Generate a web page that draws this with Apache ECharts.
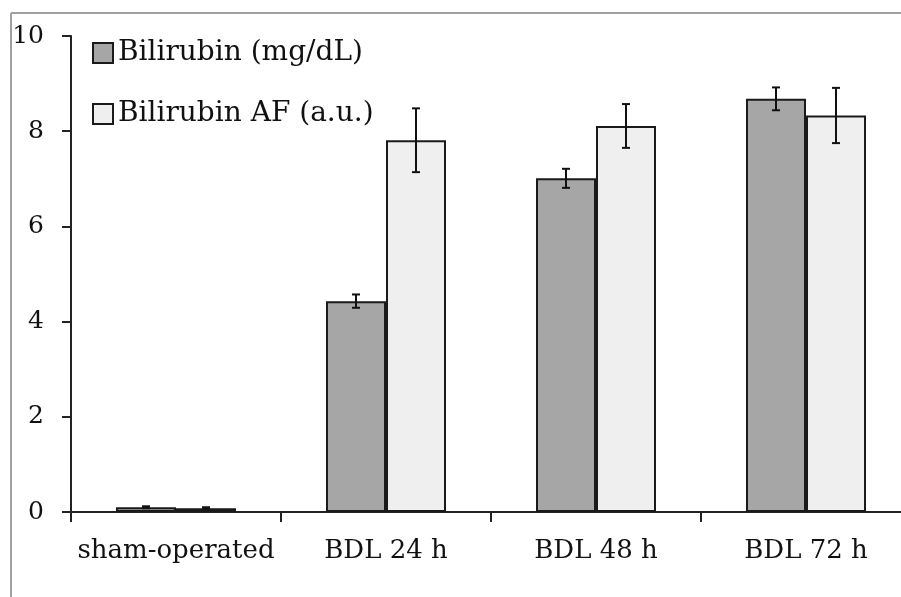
<!DOCTYPE html>
<html>
<head>
<meta charset="utf-8">
<script src="https://cdn.jsdelivr.net/npm/echarts@6/dist/echarts.min.js"></script>
<style>
html,body{margin:0;padding:0;background:#fff;overflow:hidden;}
#chart{width:911px;height:597px;}
</style>
</head>
<body>
<div id="chart"></div>
<script>
var categories = ['sham-operated', 'BDL 24 h', 'BDL 48 h', 'BDL 72 h'];
var seriesNames = ['Bilirubin (mg/dL)', 'Bilirubin AF (a.u.)'];
var bilirubin = [0.1, 4.43, 7.01, 8.68];
var bilirubinErr = [0.02, 0.14, 0.2, 0.24];
var bilirubinAF = [0.08, 7.81, 8.11, 8.33];
var bilirubinAFErr = [0.02, 0.67, 0.46, 0.58];
var yTicks = [0, 2, 4, 6, 8, 10];

var FONT = 'DejaVu Serif';
var chart = echarts.init(document.getElementById('chart'));

function errData(vals, errs) {
  return vals.map(function (v, i) { return [i, v - errs[i], v + errs[i]]; });
}
function makeErr(offset) {
  return function (params, api) {
    var i = api.value(0);
    var lo = api.coord([i, api.value(1)]);
    var hi = api.coord([i, api.value(2)]);
    var x = lo[0] + offset;
    var cap = 4;
    var style = { stroke: '#111', lineWidth: 2 };
    return {
      type: 'group',
      children: [
        { type: 'line', shape: { x1: x, y1: lo[1], x2: x, y2: hi[1] }, style: style },
        { type: 'line', shape: { x1: x - cap, y1: lo[1], x2: x + cap, y2: lo[1] }, style: style },
        { type: 'line', shape: { x1: x - cap, y1: hi[1], x2: x + cap, y2: hi[1] }, style: style }
      ]
    };
  };
}

var option = {
  animation: false,
  backgroundColor: '#fff',
  textStyle: { fontFamily: FONT },
  grid: { left: 71, top: 36, bottom: 85, right: 0, containLabel: false },
  legend: {
    orient: 'vertical',
    left: 87,
    top: 34,
    icon: 'rect',
    itemWidth: 20,
    itemHeight: 20,
    itemGap: 33,
    data: seriesNames,
    textStyle: { fontFamily: FONT, fontSize: 28, color: '#111' }
  },
  xAxis: {
    type: 'category',
    data: categories,
    axisLine: { show: true, lineStyle: { color: '#222', width: 2 } },
    axisTick: { show: true, length: 10, interval: 0, alignWithLabel: false, lineStyle: { color: '#222', width: 2 } },
    axisLabel: { interval: 0, fontFamily: FONT, fontSize: 26, color: '#111', margin: 26 }
  },
  yAxis: {
    type: 'value',
    min: 0,
    max: 10,
    interval: 2,
    splitLine: { show: false },
    axisLine: { show: true, lineStyle: { color: '#222', width: 2 } },
    axisTick: { show: true, length: 9, lineStyle: { color: '#222', width: 2 } },
    axisLabel: { fontFamily: FONT, fontSize: 25, color: '#111', margin: 27 }
  },
  series: [
    {
      name: seriesNames[0],
      type: 'bar',
      data: bilirubin,
      barWidth: 60,
      barGap: '0%',
      itemStyle: { color: '#a6a6a6', borderColor: '#1a1a1a', borderWidth: 2 }
    },
    {
      name: seriesNames[1],
      type: 'bar',
      data: bilirubinAF,
      barWidth: 60,
      barGap: '0%',
      itemStyle: { color: '#efefef', borderColor: '#1a1a1a', borderWidth: 2 }
    },
    {
      type: 'custom',
      renderItem: makeErr(-30),
      data: errData(bilirubin, bilirubinErr),
      encode: { x: 0, y: [1, 2] },
      z: 5
    },
    {
      type: 'custom',
      renderItem: makeErr(30),
      data: errData(bilirubinAF, bilirubinAFErr),
      encode: { x: 0, y: [1, 2] },
      z: 5
    }
  ],
  graphic: [
    { type: 'line', shape: { x1: 11, y1: 13, x2: 911, y2: 13 }, style: { stroke: '#a0a0a0', lineWidth: 2 } },
    { type: 'line', shape: { x1: 11, y1: 13, x2: 11, y2: 597 }, style: { stroke: '#a0a0a0', lineWidth: 2 } }
  ]
};
chart.setOption(option);
</script>
</body>
</html>
